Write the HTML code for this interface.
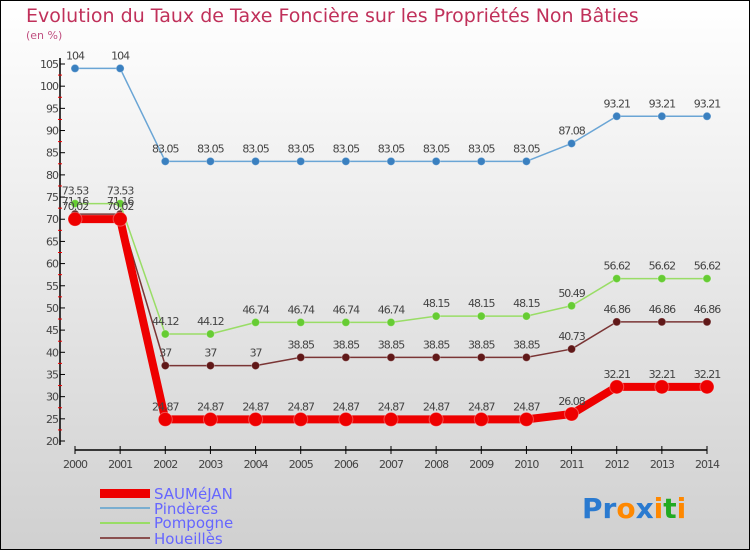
<!DOCTYPE html>
<html><head><meta charset="utf-8"><style>
body{margin:0}
svg{display:block;font-family:"DejaVu Sans","Liberation Sans",sans-serif}
</style></head><body>
<svg width="750" height="550" xmlns="http://www.w3.org/2000/svg">
<defs><linearGradient id="bg" x1="0" y1="0" x2="0" y2="1"><stop offset="0" stop-color="#ffffff"/><stop offset="1" stop-color="#d0d0d0"/></linearGradient></defs>
<rect x="0.5" y="0.5" width="749" height="549" fill="url(#bg)" stroke="#000"/>
<text x="26" y="22" font-size="19" fill="#c0305a">Evolution du Taux de Taxe Foncière sur les Propriétés Non Bâties</text>
<text x="26" y="39" font-size="11" fill="#c05080">(en %)</text>
<g id="axes"></g><g id="series"></g>
<g>
<rect x="100" y="489" width="50" height="9" fill="#ee0000"/>
<text x="154" y="499" font-size="15" fill="#6666ff">SAUMéJAN</text>
<rect x="100" y="507" width="50" height="2" fill="#7aaed0"/>
<text x="154" y="514" font-size="15" fill="#6666ff">Pindères</text>
<rect x="100" y="522" width="50" height="2" fill="#99dd66"/>
<text x="154" y="528" font-size="15" fill="#6666ff">Pompogne</text>
<rect x="100" y="537" width="50" height="2" fill="#8a5050"/>
<text x="154" y="544" font-size="15" fill="#6666ff">Houeillès</text>
</g>
<text x="582" y="518" font-size="28" font-weight="bold"><tspan fill="#2a7ad0">Pr</tspan><tspan fill="#ff8800">o</tspan><tspan fill="#2a7ad0">x</tspan><tspan fill="#ff8800">i</tspan><tspan fill="#22aa22">t</tspan><tspan fill="#ff8800">i</tspan></text>
</svg>
<script>
const years=[2000,2001,2002,2003,2004,2005,2006,2007,2008,2009,2010,2011,2012,2013,2014];
const yTicks=[20,25,30,35,40,45,50,55,60,65,70,75,80,85,90,95,100,105];
const saumejan=[70.02,70.02,24.87,24.87,24.87,24.87,24.87,24.87,24.87,24.87,24.87,26.08,32.21,32.21,32.21];
const pinderes=[104,104,83.05,83.05,83.05,83.05,83.05,83.05,83.05,83.05,83.05,87.08,93.21,93.21,93.21];
const pompogne=[73.53,73.53,44.12,44.12,46.74,46.74,46.74,46.74,48.15,48.15,48.15,50.49,56.62,56.62,56.62];
const houeilles=[71.16,71.16,37,37,37,38.85,38.85,38.85,38.85,38.85,38.85,40.73,46.86,46.86,46.86];
const NS='http://www.w3.org/2000/svg';
const X=i=>75+i*(707-75)/14;
const Y=v=>441-(v-20)*(441-64)/85;
function mk(t,a,p){const e=document.createElementNS(NS,t);for(const k in a)e.setAttribute(k,a[k]);p.appendChild(e);return e;}
const ax=document.getElementById('axes');
let yl=mk('line',{x1:60,y1:58,x2:60,y2:445,stroke:'#000','stroke-width':1.5},ax);


let xl=mk('line',{x1:75,y1:450,x2:707,y2:450,stroke:'#000','stroke-width':1.5},ax);


yTicks.forEach(v=>{
  mk('line',{x1:60,y1:Y(v),x2:65,y2:Y(v),stroke:'#000'},ax);
  if(v<105)mk('line',{x1:58,y1:Y(v+2.5),x2:62,y2:Y(v+2.5),stroke:'#e00'},ax);
  const t=mk('text',{x:58,y:Y(v)+4,'font-size':11,fill:'#444','text-anchor':'end','letter-spacing':'-1'},ax);
  t.textContent=v;
  
  
});
years.forEach((yr,i)=>{
  mk('line',{x1:X(i),y1:446,x2:X(i),y2:454,stroke:'#000'},ax);
  const t=mk('text',{x:X(i),y:468,'font-size':11,fill:'#444','text-anchor':'middle','letter-spacing':'-1'},ax);
  t.textContent=yr;
  
  
});
const sg=document.getElementById('series');
function draw(vals,color,w,r,name,dot){
  const g=mk('g',{},sg);
  
  
  const pl=mk('polyline',{points:vals.map((v,i)=>X(i)+','+Y(v)).join(' '),fill:'none',stroke:color,'stroke-width':w,'stroke-linejoin':'round'},g);
  
  
  vals.forEach((v,i)=>{
    const c=mk('circle',{cx:X(i),cy:Y(v),r:r,fill:dot,stroke:'#fff','stroke-opacity':0.3},g);
    
    
    const t=mk('text',{x:X(i),y:Y(v)-9,'font-size':11,fill:'#444','text-anchor':'middle','letter-spacing':'-1'},g);
    t.textContent=String(v).replace(/\.(\d)$/,'.$10').replace(/\.?0+$/,'').replace(/(\.\d*)/,'$1');
    t.textContent=Number.isInteger(v)?String(v):v.toFixed(2).replace(/0$/,'');
    
    
  });
}
draw(pinderes,'#6aa5d5',1.5,4,'pinderes','#3a80c0');
draw(houeilles,'#7a3535',1.5,4,'houeilles','#601818');
draw(pompogne,'#99dd66',1.5,4,'pompogne','#66cc33');
draw(saumejan,'#ee0000',8,7,'saumejan','#ee0000');
</script>
</body></html>
